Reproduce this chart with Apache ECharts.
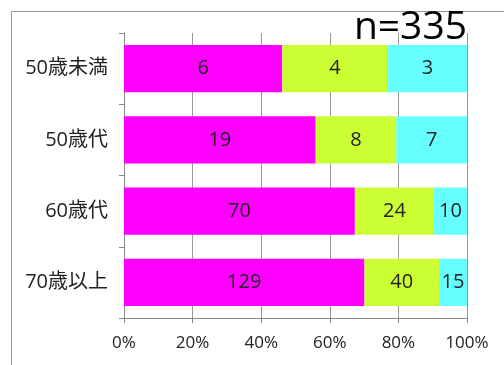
<!DOCTYPE html>
<html>
<head>
<meta charset="utf-8">
<script src="https://cdn.jsdelivr.net/npm/echarts@6/dist/echarts.min.js"></script>
<style>html,body{margin:0;padding:0;background:#fff}#c{width:504px;height:365px}</style>
</head>
<body>
<div id="c"></div>
<script>
const categories = ['50歳未満', '50歳代', '60歳代', '70歳以上'];
const seriesA = [6, 19, 70, 129];
const seriesB = [4, 8, 24, 40];
const seriesC = [3, 7, 10, 15];
const xTicks = [0, 20, 40, 60, 80, 100];
const titleText = 'n=335';

const totals = categories.map((_, i) => seriesA[i] + seriesB[i] + seriesC[i]);
const pct = arr => arr.map((v, i) => ({ value: v / totals[i] * 100, raw: v }));
const colors = ['#FF00FF', '#CCFF33', '#66FFFF'];
const font = '"Open Sans", "Noto Sans CJK JP", sans-serif';

const mk = (name, arr, color) => ({
  name, type: 'bar', stack: 's', data: pct(arr), barWidth: '66%',
  itemStyle: { color },
  label: { show: true, position: 'inside', formatter: p => p.data.raw, color: '#222', fontSize: 20, fontFamily: font },
  emphasis: { disabled: true }
});

const chart = echarts.init(document.getElementById('c'), null, { renderer: 'canvas' });
chart.setOption({
  animation: false,
  graphic: [{ type: 'rect', shape: { x: 11.5, y: 11.5, width: 600, height: 400 }, style: { fill: 'none', stroke: '#999', lineWidth: 1 }, z: -1 }],
  title: { text: titleText, right: 32, top: 3, textStyle: { fontSize: 39, fontWeight: 'normal', color: '#000', fontFamily: font } },
  grid: { left: 124, right: 37, top: 33, bottom: 47 },
  xAxis: {
    type: 'value', min: xTicks[0], max: xTicks[xTicks.length - 1], interval: 20,
    axisLine: { show: true, lineStyle: { color: '#888' } },
    axisTick: { show: true, length: 5, lineStyle: { color: '#888' } },
    axisLabel: { formatter: '{value}%', fontSize: 17, color: '#222', fontFamily: font, margin: 17 },
    splitLine: { show: true, lineStyle: { color: '#999' } }
  },
  yAxis: {
    type: 'category', data: categories, inverse: true,
    axisLine: { show: true, lineStyle: { color: '#888' } },
    axisTick: { show: true, length: 5, lineStyle: { color: '#888' } },
    axisLabel: { fontSize: 20, color: '#222', fontFamily: font, margin: 16 }
  },
  series: [mk('a', seriesA, colors[0]), mk('b', seriesB, colors[1]), mk('c', seriesC, colors[2])]
});
</script>
</body>
</html>
